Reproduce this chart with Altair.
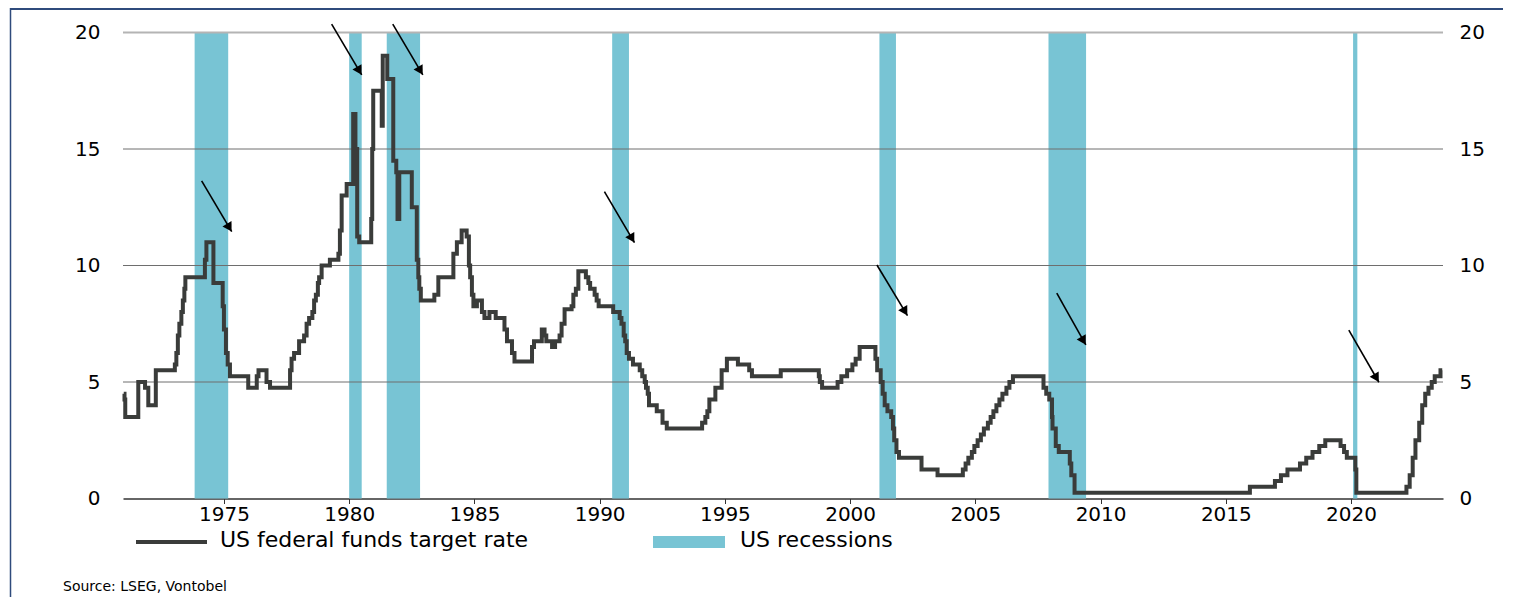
import altair as alt
import pandas as pd

# ---------------- data ----------------
years = [
    1971.00, 1971.03, 1971.06, 1971.58, 1971.85, 1971.98, 1972.28,
    1973.04, 1973.10, 1973.16, 1973.22, 1973.30, 1973.36, 1973.42, 1973.46,
    1974.24, 1974.30, 1974.58, 1974.95, 1975.00, 1975.08, 1975.15, 1975.24,
    1975.97, 1976.31, 1976.38, 1976.70, 1976.84,
    1977.64, 1977.70, 1977.80, 1978.00, 1978.20, 1978.30, 1978.40, 1978.53,
    1978.60, 1978.67, 1978.75, 1978.80, 1978.90, 1979.23, 1979.57,
    1979.63, 1979.70, 1979.90, 1980.16, 1980.25, 1980.32, 1980.40,
    1980.88, 1980.92, 1980.96, 1981.30, 1981.34, 1981.52, 1981.76, 1981.88,
    1981.93, 1982.00, 1982.50, 1982.70, 1982.76, 1982.80, 1982.86,
    1983.40, 1983.56, 1984.16, 1984.30, 1984.49, 1984.69, 1984.78, 1984.83,
    1984.90, 1984.96, 1985.10, 1985.30, 1985.40, 1985.60, 1985.85,
    1986.20, 1986.30, 1986.50, 1986.60, 1987.30, 1987.38, 1987.69, 1987.80,
    1987.87, 1988.10, 1988.22, 1988.40, 1988.48, 1988.60, 1988.88, 1988.95,
    1989.05, 1989.15, 1989.45, 1989.55, 1989.62, 1989.80, 1989.88, 1989.96,
    1990.54, 1990.80, 1990.87, 1990.96, 1991.02, 1991.08, 1991.17, 1991.33,
    1991.60, 1991.70, 1991.80, 1991.85, 1991.92, 1991.97, 1992.28, 1992.51,
    1992.68, 1994.09, 1994.22, 1994.30, 1994.38, 1994.62, 1994.87, 1995.08,
    1995.52, 1995.97, 1996.08, 1997.23, 1998.75, 1998.79, 1998.88, 1999.50,
    1999.65, 1999.88, 2000.09, 2000.22, 2000.38, 2001.01, 2001.08, 2001.22,
    2001.30, 2001.38, 2001.49, 2001.64, 2001.71, 2001.76, 2001.85, 2001.95,
    2002.85, 2003.49, 2004.50, 2004.61, 2004.72, 2004.86, 2004.96, 2005.09,
    2005.22, 2005.34, 2005.50, 2005.61, 2005.72, 2005.84, 2005.96, 2006.08,
    2006.24, 2006.36, 2006.50, 2007.72, 2007.83, 2007.95, 2008.06, 2008.08,
    2008.21, 2008.33, 2008.77, 2008.83, 2008.96, 2015.96, 2016.96, 2017.20,
    2017.46, 2017.96, 2018.21, 2018.46, 2018.73, 2018.97, 2019.58, 2019.72,
    2019.83, 2020.17, 2020.21, 2022.21, 2022.34, 2022.46, 2022.57, 2022.72,
    2022.84, 2022.96, 2023.09, 2023.22, 2023.34, 2023.57, 2023.64,
]
rates = [
    4.50, 4.25, 3.50, 5.00, 4.75, 4.00, 5.50,
    5.75, 6.25, 7.00, 7.50, 8.00, 8.50, 9.00, 9.50,
    10.25, 11.00, 9.25, 8.25, 7.25, 6.25, 5.75, 5.25,
    4.75, 5.25, 5.50, 5.00, 4.75,
    5.50, 6.00, 6.25, 6.75, 7.00, 7.50, 7.75, 8.00,
    8.50, 8.75, 9.25, 9.50, 10.00, 10.25, 10.50,
    11.50, 13.00, 13.50, 16.50, 15.00, 11.25, 11.00,
    12.00, 15.00, 17.50, 16.00, 19.00, 18.00, 14.50, 14.00,
    12.00, 14.00, 12.50, 10.25, 9.50, 9.00, 8.50,
    8.75, 9.50, 10.50, 11.00, 11.50, 11.25, 10.00, 9.50,
    8.75, 8.25, 8.50, 8.00, 7.75, 8.00, 7.75,
    7.25, 6.75, 6.25, 5.875, 6.50, 6.75, 7.25, 7.00,
    6.75, 6.50, 6.75, 7.00, 7.50, 8.125, 8.25, 8.75,
    9.00, 9.75, 9.50, 9.25, 9.00, 8.75, 8.50, 8.25,
    8.00, 7.75, 7.50, 7.00, 6.75, 6.25, 6.00, 5.75,
    5.50, 5.25, 5.00, 4.75, 4.50, 4.00, 3.75, 3.25,
    3.00, 3.25, 3.50, 3.75, 4.25, 4.75, 5.50, 6.00,
    5.75, 5.50, 5.25, 5.50, 5.25, 5.00, 4.75, 5.00,
    5.25, 5.50, 5.75, 6.00, 6.50, 6.00, 5.50, 5.00,
    4.50, 4.00, 3.75, 3.50, 3.00, 2.50, 2.00, 1.75,
    1.25, 1.00, 1.25, 1.50, 1.75, 2.00, 2.25, 2.50,
    2.75, 3.00, 3.25, 3.50, 3.75, 4.00, 4.25, 4.50,
    4.75, 5.00, 5.25, 4.75, 4.50, 4.25, 3.50, 3.00,
    2.25, 2.00, 1.50, 1.00, 0.25, 0.50, 0.75, 1.00,
    1.25, 1.50, 1.75, 2.00, 2.25, 2.50, 2.25, 2.00,
    1.75, 1.25, 0.25, 0.50, 1.00, 1.75, 2.50, 3.25,
    4.00, 4.50, 4.75, 5.00, 5.25, 5.50, 5.50,
]

rec_start = [1973.83, 1980.00, 1981.50, 1990.50, 2001.17, 2007.92, 2020.08]
rec_end = [1975.17, 1980.50, 1982.83, 1991.17, 2001.83, 2009.42, 2020.25]

arrow_x0 = [1974.11, 1979.30, 1981.74, 1990.19, 2001.07, 2008.25, 2019.91]
arrow_y0 = [13.63, 20.36, 20.36, 13.17, 10.02, 8.81, 7.23]
arrow_x1 = [1975.31, 1980.50, 1982.94, 1991.39, 2002.29, 2009.41, 2021.11]
arrow_y1 = [11.45, 18.18, 18.18, 10.98, 7.85, 6.59, 4.99]

x_ticks = [1975, 1980, 1985, 1990, 1995, 2000, 2005, 2010, 2015, 2020]
y_ticks = [0, 5, 10, 15, 20]
inner_grid = [5, 10, 15]
top_grid = [20]
legend_labels = ["US federal funds target rate", "US recessions"]
source_text = ["Source: LSEG, Vontobel"]

# ---------------- styling ----------------
FONT = "DejaVu Sans"
TEAL = "#78C4D4"
LINE = "#3A3C3A"
FRAME = "#2F4B7C"

xs = alt.Scale(domain=[1970.97, 2023.67], nice=False, zero=False)
ys = alt.Scale(domain=[0, 20], nice=False, zero=True)

X_AXIS = alt.Axis(values=x_ticks, format="d", tickSize=5, tickColor="#333333",
                  tickWidth=1, domainColor="#333333", domainWidth=1.5,
                  labelPadding=1, labelFontSize=20, grid=False, labelFlush=False,
                  title=None)

line_df = pd.DataFrame({"year": years, "rate": rates})
rec_df = pd.DataFrame({"start": rec_start, "end": rec_end})
rec_df["top"] = max(y_ticks)
rec_df["bottom"] = min(y_ticks)
arr_df = pd.DataFrame({"x0": arrow_x0, "y0": arrow_y0, "x1": arrow_x1, "y1": arrow_y1})
arr_df["hx"] = arr_df["x1"] - 0.08 * (arr_df["x1"] - arr_df["x0"])
arr_df["hy"] = arr_df["y1"] - 0.08 * (arr_df["y1"] - arr_df["y0"])

recessions = alt.Chart(rec_df).mark_rect(color=TEAL).encode(
    x=alt.X("start:Q", scale=xs, axis=X_AXIS, title=None),
    x2="end:Q",
    y=alt.Y("top:Q", scale=ys, axis=None),
    y2="bottom:Q",
)

grid_inner = alt.Chart(pd.DataFrame({"v": inner_grid})).mark_rule(
    color="#6E6E6E", strokeWidth=1
).encode(y=alt.Y("v:Q", scale=ys, axis=None))

grid_top = alt.Chart(pd.DataFrame({"v": top_grid})).mark_rule(
    color="#B4B4B4", strokeWidth=2
).encode(y=alt.Y("v:Q", scale=ys, axis=None))

line = alt.Chart(line_df).mark_line(
    interpolate="step-after", color=LINE, strokeWidth=4
).encode(
    x=alt.X("year:Q", scale=xs, axis=X_AXIS, title=None),
    y=alt.Y(
        "rate:Q", scale=ys, title=None,
        axis=alt.Axis(values=y_ticks, orient="left", domain=False, ticks=False,
                      labelPadding=23, labelFontSize=20, grid=False),
    ),
)

right_axis = alt.Chart(pd.DataFrame({"v": y_ticks})).mark_rule(opacity=0).encode(
    y=alt.Y("v:Q", scale=ys, title=None,
            axis=alt.Axis(values=y_ticks, orient="right", domain=False, ticks=False,
                          labelPadding=16, labelFontSize=20, grid=False)),
)

arrows = alt.Chart(arr_df).mark_rule(color="black", strokeWidth=1.6).encode(
    x=alt.X("x0:Q", scale=xs, axis=X_AXIS, title=None),
    y=alt.Y("y0:Q", scale=ys, axis=None),
    x2="x1:Q",
    y2="y1:Q",
)
heads = alt.Chart(arr_df).mark_point(
    shape="triangle-up", filled=True, color="black", opacity=1, size=110, angle=149.5
).encode(
    x=alt.X("hx:Q", scale=xs, axis=X_AXIS, title=None),
    y=alt.Y("hy:Q", scale=ys, axis=None),
)

# legend & source (pixel positions relative to the plot area)
leg_line = alt.Chart(pd.DataFrame({"k": [0]})).mark_rule(color=LINE, strokeWidth=4).encode(
    x=alt.value(13), x2=alt.value(84), y=alt.value(509.5)
)
leg_text1 = alt.Chart(pd.DataFrame({"t": [legend_labels[0]]})).mark_text(
    align="left", baseline="alphabetic", font=FONT, fontSize=22, color="black"
).encode(x=alt.value(97), y=alt.value(514.5), text="t:N")
leg_rect = alt.Chart(pd.DataFrame({"k": [0]})).mark_rect(color=TEAL).encode(
    x=alt.value(530), x2=alt.value(602), y=alt.value(503.5), y2=alt.value(515.5)
)
leg_text2 = alt.Chart(pd.DataFrame({"t": [legend_labels[1]]})).mark_text(
    align="left", baseline="alphabetic", font=FONT, fontSize=22, color="black"
).encode(x=alt.value(617), y=alt.value(514.5), text="t:N")
source = alt.Chart(pd.DataFrame({"t": source_text})).mark_text(
    align="left", baseline="alphabetic", font=FONT, fontSize=14, color="black"
).encode(x=alt.value(-60), y=alt.value(558), text="t:N")

frame_top = alt.Chart(pd.DataFrame({"k": [0]})).mark_rule(color=FRAME, strokeWidth=2).encode(
    x=alt.value(-113), x2=alt.value(1380), y=alt.value(-23.5)
)
frame_left = alt.Chart(pd.DataFrame({"k": [0]})).mark_rule(color=FRAME, strokeWidth=1.5).encode(
    x=alt.value(-112.5), y=alt.value(-24.5), y2=alt.value(566)
)

chart = alt.layer(
    recessions, grid_inner, grid_top, line, right_axis, arrows, heads,
    leg_line, leg_text1, leg_rect, leg_text2, source, frame_top, frame_left,
).resolve_axis(y="independent").properties(
    width=1320,
    height=466,
    padding={"left": 115, "top": 24.5, "right": 60, "bottom": 98},
    autosize=alt.AutoSizeParams(type="none"),
    background="white",
).configure_view(stroke=None).configure_axis(
    labelFont=FONT, labelColor="black", titleFont=FONT
)

chart.save("out.html", embed_options={"renderer": "svg", "actions": False})
